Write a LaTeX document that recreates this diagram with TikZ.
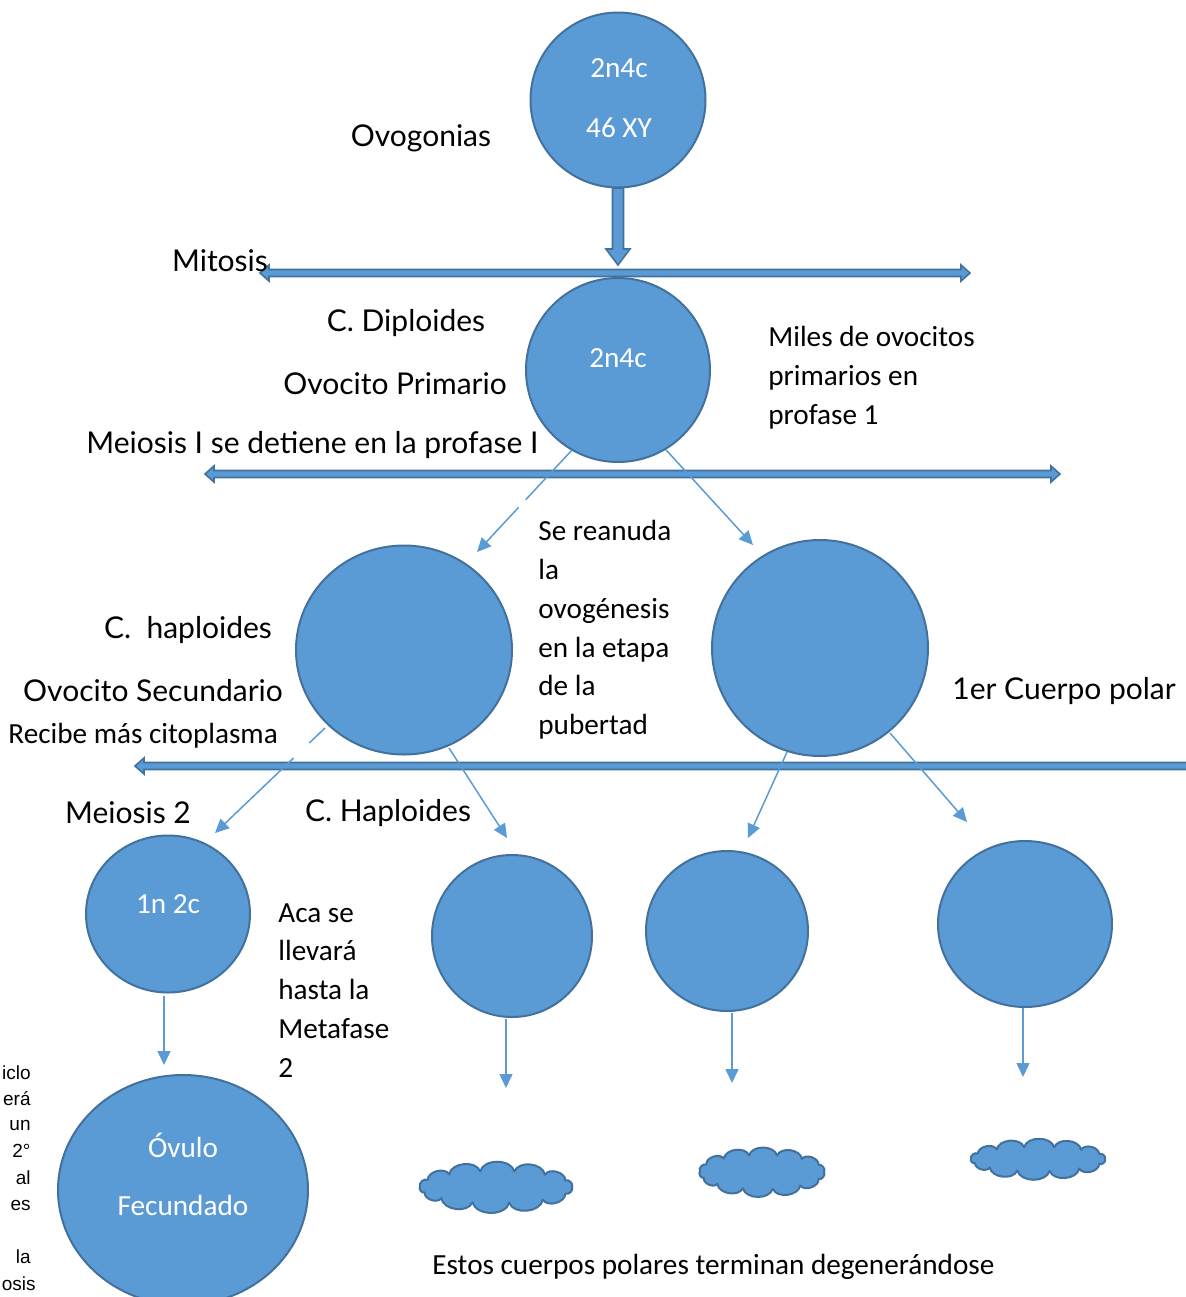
\documentclass[tikz,border=0pt]{standalone}
\usepackage{fontspec}
\setmainfont{Carlito}
\newfontfamily\gillf{Lato}
\newfontfamily\arialf{Liberation Sans}
\usetikzlibrary{shapes.geometric,arrows.meta,calc}
\definecolor{cfill}{HTML}{5B9BD5}
\definecolor{cedge}{HTML}{41719C}
\newcommand{\dblarrow}[3]{%
  \filldraw[blk] (#2,#1) -- (#2+9,#1-8) -- (#2+9,#1-3.5) -- (#3-9,#1-3.5) -- (#3-9,#1-8) -- (#3,#1)
   -- (#3-9,#1+8) -- (#3-9,#1+3.5) -- (#2+9,#1+3.5) -- (#2+9,#1+8) -- cycle;}
\newcommand{\cloudpath}[5]{% name cx cy rx ry
  \foreach \a [count=\i from 0] in {0,24,52,80,108,136,160,182,206,232,258,284,310,336}
    {\coordinate (#1-\i) at ({#2+#4*cos(\a)},{#3+#5*sin(\a)});}
  \filldraw[puff] (#1-0) \foreach \i in {1,...,13} { to[bend left=75] (#1-\i) }
    to[bend left=75] (#1-0) -- cycle;}
\begin{document}
\begin{tikzpicture}[x=0.5pt,y=-0.5pt,
  cell/.style={ellipse,draw=cedge,fill=cfill,line width=1pt,inner sep=0pt},
  puff/.style={draw=cedge,fill=cfill,line width=1pt,line join=round},
  blk/.style={fill=cfill,draw=cedge,line width=0.8pt},
  thinline/.style={draw=cfill,line width=0.75pt},
  thinarrow/.style={thinline,-{Triangle[length=7pt,width=6.5pt]}},
  gill/.style={font=\gillf\fontsize{15}{18}\selectfont,inner sep=0pt},
  cal/.style={font=\fontsize{14.6}{19.4}\selectfont,inner sep=0pt},
  wcal/.style={cal,text=white},
  calblock/.style={cal,align=left,anchor=north west},
  cut/.style={font=\arialf\fontsize{9.5}{13}\selectfont,inner sep=0pt,anchor=east}
]
\useasboundingbox (0,0) rectangle (1186,1297);

% cells
\node[cell,minimum width=87.5pt,minimum height=87.5pt] (c1) at (618,100) {};
\node[cell,minimum width=92pt,minimum height=92pt] (c2) at (618,370) {};
\node[cell,minimum width=108pt,minimum height=104.5pt] (c3) at (404,650) {};
\node[cell,minimum width=108pt,minimum height=108pt] (c4) at (820,648) {};
\node[cell,minimum width=82pt,minimum height=78.5pt] (c5) at (168,914) {};
\node[cell,minimum width=80pt,minimum height=81pt] (c6) at (512,936) {};
\node[cell,minimum width=81pt,minimum height=80pt] (c7) at (727,931) {};
\node[cell,minimum width=87pt,minimum height=83pt] (c8) at (1025,924) {};
\node[cell,minimum width=125pt,minimum height=115pt] (c9) at (183,1190) {};

% clouds (degenerating polar bodies)
\cloudpath{k1}{496}{1187}{76}{16}
\cloudpath{k2}{762}{1172}{62}{17}
\cloudpath{k3}{1038}{1159}{67}{12}

% block arrows
\filldraw[blk] (612.5,188) -- (623.5,188) -- (623.5,249) -- (630,249) -- (618,265)
  -- (606,249) -- (612.5,249) -- cycle;
\dblarrow{273}{260}{970}
\dblarrow{474}{205}{1060}
\dblarrow{766}{135}{1200}

% thin arrows
\coordinate (t1) at (477,552);
\coordinate (t2) at (753,545);
\coordinate (s3) at (325,728);
\coordinate (t3) at (215,833);
\coordinate (s4) at (449,748);
\coordinate (t4) at (507,838);
\coordinate (s5) at (787,752);
\coordinate (t5) at (748,838);
\coordinate (s6) at (890,733);
\coordinate (t6) at (967,822);
\coordinate (s7) at (164,996);
\coordinate (t7) at (164,1065);
\coordinate (s8) at (506,1019);
\coordinate (t8) at (506,1088);
\coordinate (s9) at (732,1013);
\coordinate (t9) at (732,1083);
\coordinate (s10) at (1023,1008);
\coordinate (t10) at (1023,1077);

\draw[thinline] (c2.240) -- ($(c2.240)!0.485!(t1)$);
\draw[thinarrow] ($(c2.240)!0.56!(t1)$) -- (t1);
\draw[thinarrow] (c2.301) -- (t2);
\draw[thinline] (s3) -- ($(s3)!0.143!(t3)$);
\draw[thinarrow] ($(s3)!0.286!(t3)$) -- (t3);
\draw[thinarrow] (s4) -- (t4);
\draw[thinarrow] (s5) -- (t5);
\draw[thinarrow] (s6) -- (t6);
\draw[thinarrow] (s7) -- (t7);
\draw[thinarrow] (s8) -- (t8);
\draw[thinarrow] (s9) -- (t9);
\draw[thinarrow] (s10) -- (t10);

% texts in cells
\node[wcal] (a1) at (619,68) {2n4c};
\node[wcal] (a2) at (619,128) {46 XY};
\node[wcal] (a3) at (618,358) {2n4c};
\node[wcal] (a4) at (168,904) {1n 2c};
\node[wcal] (a5) at (183,1145) {Óvulo};
\node[wcal] (a6) at (183,1205) {Fecundado};

% labels
\node[gill] (l1) at (421,138) {Ovogonias};
\node[gill] (l2) at (220,261) {Mitosis};
\node[gill] (l3) at (406,323) {C. Diploides};
\node[gill] (l4) at (395,384) {Ovocito Primario};
\node[gill,anchor=west] (l5) at (86,445) {Meiosis I se detiene en la profase I};
\node[gill] (l6) at (188,630) {C.~~haploides};
\node[gill] (l7) at (153,691) {Ovocito Secundario};
\node[gill,anchor=west] (l8) at (952,691) {1er Cuerpo polar};
\node[gill] (l9) at (128,813) {Meiosis 2};
\node[gill] (l10) at (388,813) {C. Haploides};

\node[calblock] (b1) at (768,326) {Miles de ovocitos\\primarios en\\profase 1};
\node[calblock] (b2) at (538,520) {Se reanuda\\la\\ovogénesis\\en la etapa\\de la\\pubertad};
\node[calblock] (b3) at (278,903) {Aca se\\llevará\\hasta la\\Metafase\\2};
\node[cal,anchor=west] (b4) at (8,736) {Recibe más citoplasma};
\node[cal,anchor=west] (b5) at (432,1267) {Estos cuerpos polares terminan degenerándose};

% text at left edge
\node[cut] (x1) at (31,1073) {iclo};
\node[cut] (x2) at (31,1099) {erá};
\node[cut] (x3) at (31,1125) {un};
\node[cut] (x4) at (31,1151) {2°};
\node[cut] (x5) at (31,1178) {al};
\node[cut] (x6) at (31,1205) {es};
\node[cut] (x7) at (31,1257) {la};
\node[cut] (x8) at (36,1284) {osis};
\end{tikzpicture}
\end{document}
